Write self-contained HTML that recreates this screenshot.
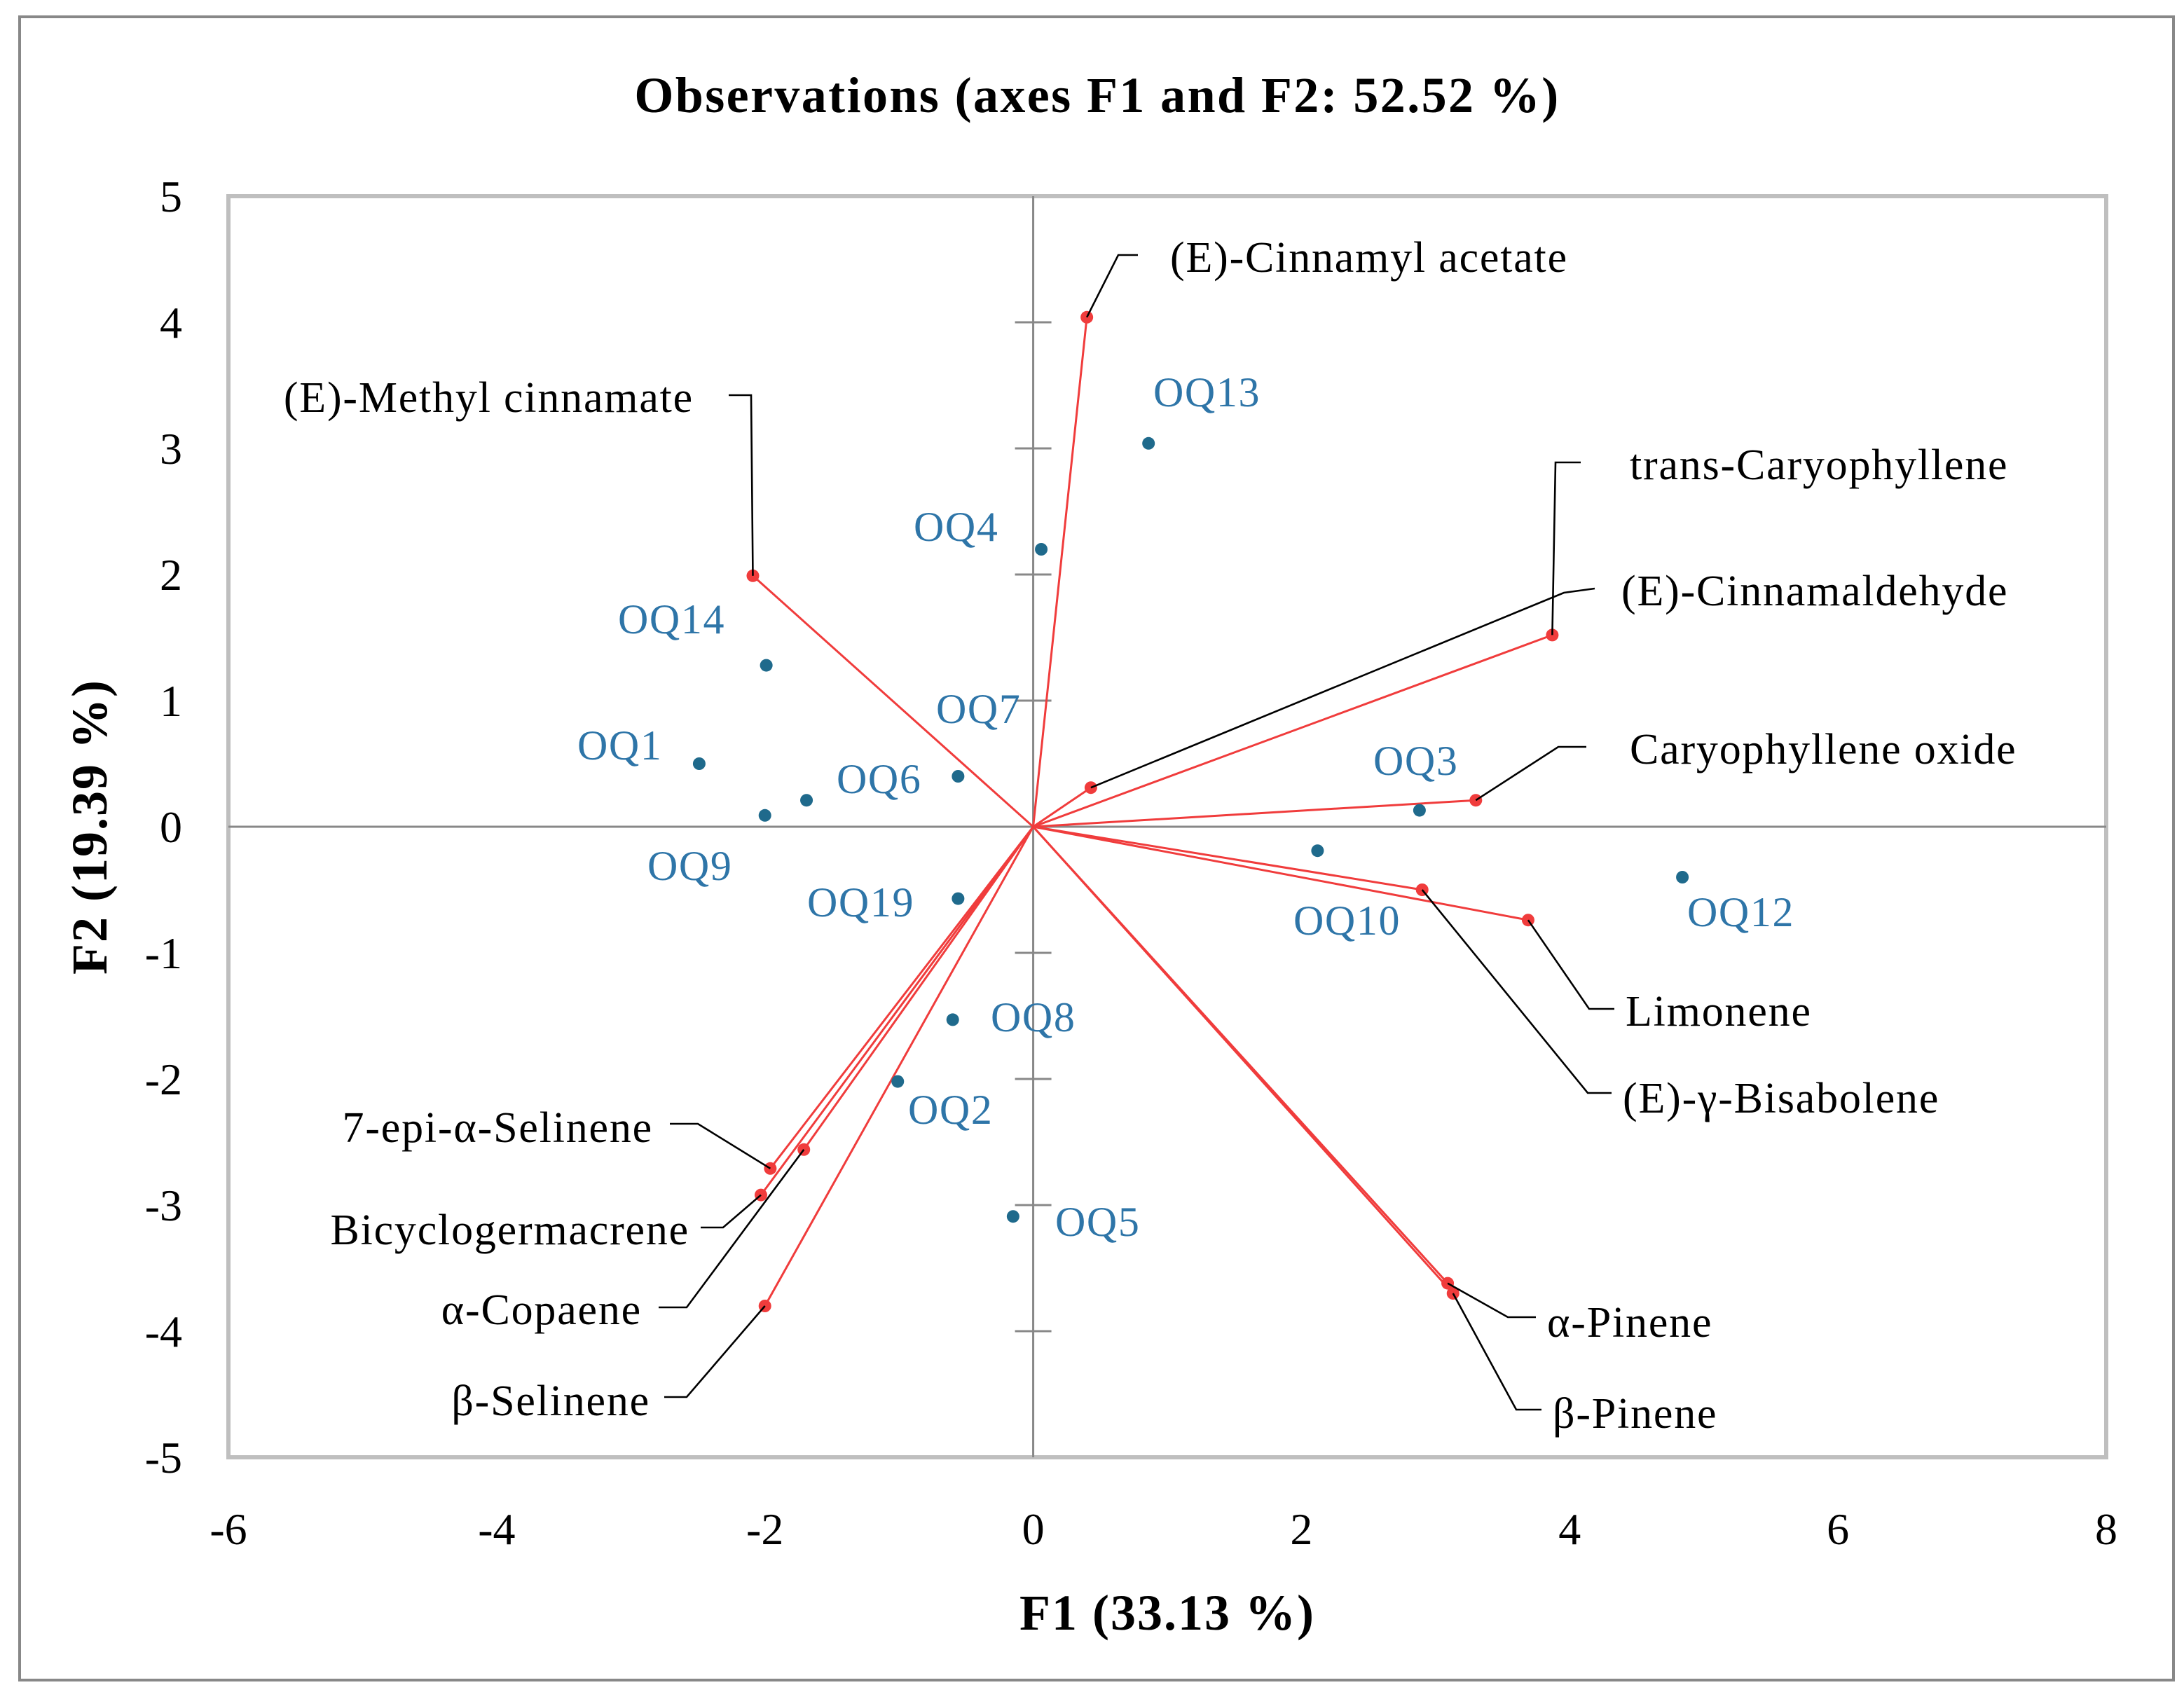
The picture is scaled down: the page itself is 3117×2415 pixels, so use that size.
<!DOCTYPE html>
<html><head><meta charset="utf-8"><style>
html,body{margin:0;padding:0;background:#fff;}
svg{display:block;}
text{font-family:"Liberation Serif",serif;}
</style></head><body>
<svg id="chart" width="3117" height="2415" viewBox="0 0 1558.5 1207.5" xmlns="http://www.w3.org/2000/svg">
<rect x="14" y="12" width="1537" height="1187" fill="#fff" stroke="#888" stroke-width="2"/>
<text x="783" y="80" text-anchor="middle" font-size="36" font-weight="bold" letter-spacing="1.2">Observations (axes F1 and F2: 52.52 %)</text>
<rect x="163" y="140" width="1340" height="900" fill="none" stroke="#bfbfbf" stroke-width="3"/>
<g id="axes"></g>
<g id="vectors"></g>
<g id="leaders"></g>
<g id="points"></g>
<g id="labels"></g>
<text x="833" y="1163" text-anchor="middle" font-size="36" font-weight="bold" letter-spacing="1">F1 (33.13 %)</text>
<text transform="translate(76,590) rotate(-90)" text-anchor="middle" font-size="36" font-weight="bold" letter-spacing="1">F2 (19.39 %)</text>
</svg>
<script>
const xTicks=[-6,-4,-2,0,2,4,6,8];
const yTicks=[5,4,3,2,1,0,-1,-2,-3,-4,-5];
const obsNames=["OQ13","OQ4","OQ14","OQ1","OQ9","OQ6","OQ7","OQ19","OQ8","OQ2","OQ5","OQ3","OQ10","OQ12"];
const obsX=[0.86,0.06,-1.99,-2.49,-2.0,-1.69,-0.56,-0.56,-0.6,-1.01,-0.15,2.88,2.12,4.84];
const obsY=[3.04,2.2,1.28,0.5,0.09,0.21,0.4,-0.57,-1.53,-2.02,-3.09,0.13,-0.19,-0.4];
const varNames=["(E)-Cinnamyl acetate","(E)-Methyl cinnamate","trans-Caryophyllene","(E)-Cinnamaldehyde","Caryophyllene oxide","Limonene","(E)-\u03b3-Bisabolene","\u03b1-Pinene","\u03b2-Pinene","7-epi-\u03b1-Selinene","Bicyclogermacrene","\u03b1-Copaene","\u03b2-Selinene"];
const varX=[0.4,-2.09,3.87,0.43,3.3,3.69,2.9,3.09,3.13,-1.96,-2.03,-1.71,-2.0];
const varY=[4.04,1.99,1.52,0.31,0.21,-0.74,-0.5,-3.62,-3.7,-2.71,-2.92,-2.56,-3.8];

const X0=163,X1=1503,Y0=140,Y1=1040;
const sx=v=>X0+(v+6)/14*(X1-X0);
const sy=v=>Y1-(v+5)/10*(Y1-Y0);
const NS="http://www.w3.org/2000/svg";
function mk(tag,attrs,parent,txt){const e=document.createElementNS(NS,tag);for(const k in attrs)e.setAttribute(k,attrs[k]);if(txt!==undefined)e.textContent=txt;parent.appendChild(e);return e;}
const axes=document.getElementById('axes');
xTicks.forEach(t=>{const e=mk('text',{x:sx(t),y:1102,'text-anchor':'middle','font-size':32,fill:'#000'},axes,String(t));

});
yTicks.forEach(t=>{const e=mk('text',{x:130,y:sy(t)+11,'text-anchor':'end','font-size':32,fill:'#000'},axes,String(t));


if(t!==0&&t!==5&&t!==-5){const m=mk('line',{x1:sx(0)-13,x2:sx(0)+13,y1:sy(t),y2:sy(t),stroke:'#888','stroke-width':1.5},axes);

}});
let a=mk('line',{x1:sx(0),x2:sx(0),y1:Y0,y2:Y1,stroke:'#888','stroke-width':1.5},axes);


a=mk('line',{x1:X0,x2:X1,y1:sy(0),y2:sy(0),stroke:'#888','stroke-width':1.5},axes);



const vg=document.getElementById('vectors');
varNames.forEach((n,i)=>{const l=mk('line',{x1:sx(0),y1:sy(0),x2:sx(varX[i]),y2:sy(varY[i]),stroke:'#f03c3c','stroke-width':1.5},vg);


const c=mk('circle',{cx:sx(varX[i]),cy:sy(varY[i]),r:4.5,fill:'#f03c3c'},vg);

});

const varLab=[
 [835,194,'start',[[798,182],[812,182]]],
 [495,294,'end',[[536,282],[520,282]]],
 [1163,342,'start',[[1110,330],[1128,330]]],
 [1157,432,'start',[[1116,423],[1138,420]]],
 [1163,545,'start',[[1112,533],[1132,533]]],
 [1160,732,'start',[[1134,720],[1152,720]]],
 [1158,794,'start',[[1133,780],[1150,780]]],
 [1104,954,'start',[[1076,940],[1096,940]]],
 [1108,1019,'start',[[1082,1006],[1100,1006]]],
 [466,815,'end',[[498,802],[478,802]]],
 [492,888,'end',[[516,876],[500,876]]],
 [458,945,'end',[[490,933],[470,933]]],
 [464,1010,'end',[[490,997],[474,997]]]];
const lg=document.getElementById('leaders'),lb=document.getElementById('labels');
varNames.forEach((n,i)=>{const L=varLab[i];
const pts=[[sx(varX[i]),sy(varY[i])]].concat(L[3]).map(p=>p.join(',')).join(' ');
const p=mk('polyline',{points:pts,fill:'none',stroke:'#000','stroke-width':1.3},lg);


const t=mk('text',{x:L[0],y:L[1],'text-anchor':L[2],'font-size':31,'letter-spacing':0.9,fill:'#000'},lb,n);

});

const obsLab=[[823,290],[652,386],[441,452],[412,542],[462,628],[597,566],[668,516],[576,654],[707,736],[648,802],[753,882],[980,553],[923,667],[1204,661]];
const pg=document.getElementById('points');
obsNames.forEach((n,i)=>{const c=mk('circle',{cx:sx(obsX[i]),cy:sy(obsY[i]),r:4.5,fill:'#1f6a8c'},pg);


const t=mk('text',{x:obsLab[i][0],y:obsLab[i][1],'font-size':30,'letter-spacing':0.8,fill:'#2e75a8'},lb,n);

});
</script>
</body></html>
